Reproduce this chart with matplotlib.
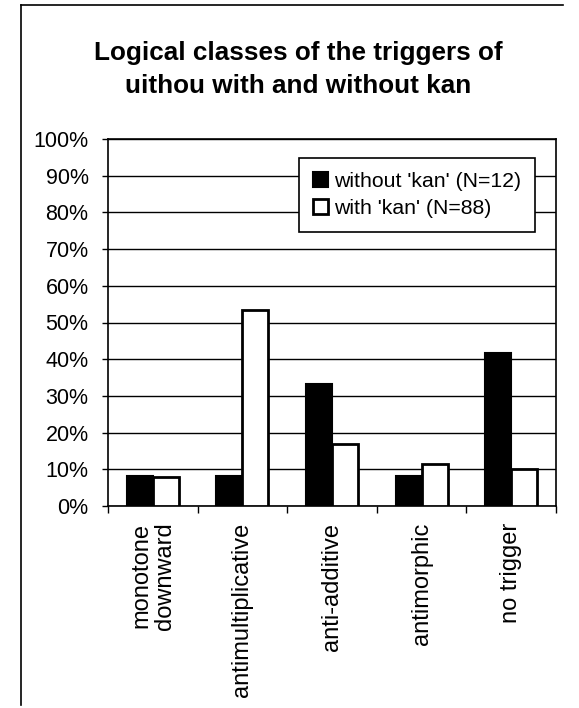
import matplotlib
matplotlib.use("Agg")
import matplotlib.pyplot as plt
from matplotlib.lines import Line2D
from matplotlib.ticker import FixedLocator, PercentFormatter
import numpy as np

plt.rcParams['font.family'] = ['Liberation Sans', 'DejaVu Sans']

categories = ["monotone\ndownward", "antimultiplicative", "anti-additive", "antimorphic", "no trigger"]
without_kan = [8.3, 8.3, 33.3, 8.3, 41.7]
with_kan = [8.0, 53.4, 17.0, 11.4, 10.2]
series_labels = ["without 'kan' (N=12)", "with 'kan' (N=88)"]
title_lines = ["Logical classes of the triggers of", "uithou with and without kan"]

W, H = 579, 708
fig = plt.figure(figsize=(W / 100, H / 100), dpi=100)
ax = fig.add_axes([108 / W, 1 - 506 / H, 448 / W, 367 / H])

x = np.arange(len(categories))
bw = 0.29
ax.bar(x - bw / 2, without_kan, bw, color='black', edgecolor='black', linewidth=1.5,
       label=series_labels[0], zorder=3)
ax.bar(x + bw / 2, with_kan, bw, color='white', edgecolor='black', linewidth=2,
       label=series_labels[1], zorder=3)

ax.set_xlim(-0.5, len(categories) - 0.5)
ax.set_ylim(0, 100)
ax.yaxis.set_major_locator(FixedLocator(np.arange(0, 101, 10)))
ax.yaxis.set_major_formatter(PercentFormatter(decimals=0))
ax.grid(axis='y', color='black', linewidth=1, zorder=0)
ax.set_axisbelow(True)

ax.set_xticks(x)
ax.set_xticklabels(categories, rotation=90, fontsize=17, va='top', ha='center',
                   multialignment='right', linespacing=1.1)
ax.set_xticks(np.arange(-0.5, len(categories), 1), minor=True)
ax.tick_params(axis='x', which='major', length=0, pad=12)
ax.tick_params(axis='x', which='minor', length=5, width=1, color='black')
ax.tick_params(axis='y', length=4, width=1, pad=10, labelsize=15.5)

for s in ax.spines.values():
    s.set_color('black')
    s.set_linewidth(1.2)

leg = ax.legend(loc='upper left', bbox_to_anchor=((299 - 108) / 448, (506 - 158) / 367),
                fontsize=15.3, frameon=True, fancybox=False, framealpha=1,
                edgecolor='black', handlelength=0.7, handleheight=0.7,
                handletextpad=0.3, borderpad=0.65, labelspacing=0.4,
                borderaxespad=0)
leg.get_frame().set_linewidth(1.2)
leg.set_zorder(5)

fig.text(298 / W, 1 - 60 / H, title_lines[0], ha='center', va='baseline',
         fontsize=18.8, fontweight='bold')
fig.text(298 / W, 1 - 93 / H, title_lines[1], ha='center', va='baseline',
         fontsize=18.8, fontweight='bold')

fig.add_artist(Line2D([21 / W, 563 / W], [1 - 5 / H, 1 - 5 / H], color='black', linewidth=1.2))
fig.add_artist(Line2D([21 / W, 21 / W], [1 - 5 / H, 1 - 705 / H], color='black', linewidth=1.2))

fig.savefig("out.png", dpi=100)
